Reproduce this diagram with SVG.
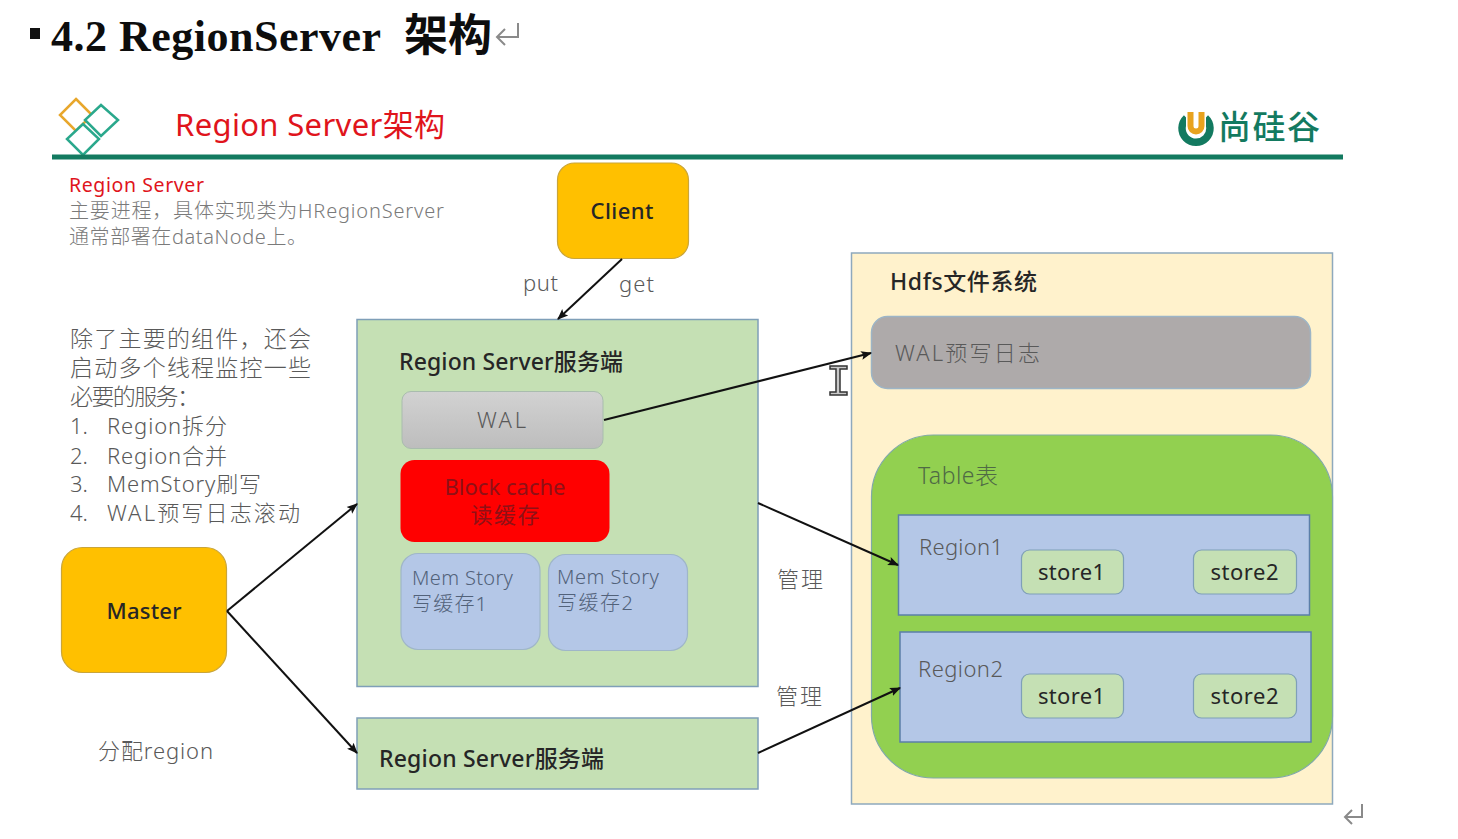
<svg xmlns="http://www.w3.org/2000/svg" width="1458" height="839" viewBox="0 0 1458 839">
<style>
text{font-family:"Noto Sans","Noto Sans CJK SC",sans-serif;fill:#595959;font-size:22px;font-weight:300}
.dk{fill:#262626;font-weight:400}
.med{font-weight:500}
.red{fill:#e0141c;font-weight:400}
.box{stroke:#7f9fb8;stroke-width:1.5}
.c{stroke:#111;stroke-width:2;fill:none;marker-end:url(#a)}
.ret{stroke:#8a8a8a;stroke-width:2;fill:none}
.store{fill:#c5e0b4;stroke:#7f9fb8;stroke-width:1.2}
.mem{fill:#b4c7e7;stroke:#9fb6c8;stroke-width:1.2}
.reg{fill:#b4c7e7;stroke:#5b7fa8;stroke-width:1.5}
.m{text-anchor:middle}
.dia{fill:#fff;stroke:#2aa88c;stroke-width:2.500}
.memt{font-size:20px;fill:#52627a}
.bc{font-size:22px;fill:#8f1016;font-weight:400}
</style>
<defs>
<marker id="a" viewBox="0 0 10 10" refX="9" refY="5" markerWidth="5.5" markerHeight="5.5" orient="auto-start-reverse" markerUnits="strokeWidth"><path d="M0 1L10 5L0 9L2 5Z" fill="#111"/></marker>
<linearGradient id="wal" x1="0" y1="0" x2="0" y2="1"><stop offset="0" stop-color="#d2d2d2"/><stop offset="1" stop-color="#bdbdbd"/></linearGradient>
</defs>
<rect width="1458" height="839" fill="#fff"/>

<g id="heading">
<rect x="30" y="28" width="10" height="11" fill="#111"/>
<text x="51" y="51" textLength="330" style="font-family:'Liberation Serif','Noto Sans CJK SC',serif;font-weight:700;font-size:44px;fill:#0d0d0d">4.2 RegionServer</text>
<text x="404" y="51" style="font-family:'Noto Sans CJK SC',sans-serif;font-weight:700;font-size:44px;fill:#0d0d0d">架构</text>
<path class="ret" d="M518 23V37H497M505 29L497 37L505 45"/>
</g>

<g id="slide-header">
<path d="M76 99L92 115L76 131L60 115Z" fill="none" stroke="#e8a72c" stroke-width="2.500"/>
<path class="dia" d="M101 105L118 120L101 136L85 120Z"/>
<path class="dia" d="M83 124L99 139L83 155L67 139Z"/>
<text x="175" y="136" class="red" textLength="270" style="font-size:31px">Region Server架构</text>
<rect x="52" y="154.500" width="1291" height="5" fill="#137a60"/>
<path d="M1186.500 118A14 14 0 1 0 1205.500 118" fill="none" stroke="#137a60" stroke-width="7.500"/>
<path d="M1190.500 108V126A5.500 5.500 0 0 0 1201.500 126V108" fill="none" stroke="#fff" stroke-width="9"/>
<path d="M1190.500 112V126A5.500 5.500 0 0 0 1201.500 126V112" fill="none" stroke="#e8a31f" stroke-width="6"/>
<text x="1218" y="139" textLength="102" style="font-family:'Noto Sans CJK SC',sans-serif;font-size:33px;font-weight:500;fill:#137a60">尚硅谷</text>
</g>

<g id="intro">
<text x="69" y="192" class="red" textLength="135" style="font-size:19.500px">Region Server</text>
<text x="69" y="218" textLength="375" style="font-size:20px;fill:#7a7a7a">主要进程，具体实现类为HRegionServer</text>
<text x="69" y="244" textLength="238" style="font-size:20px;fill:#7a7a7a">通常部署在dataNode上。</text>
</g>

<g id="notes">
<text x="70" y="347" textLength="241" style="font-size:23px">除了主要的组件，还会</text>
<text x="70" y="376" textLength="241" style="font-size:23px">启动多个线程监控一些</text>
<text x="70" y="405" textLength="130" style="font-size:23px">必要的服务：</text>
<text x="70" y="434">1.</text><text x="107" y="434" textLength="120">Region拆分</text>
<text x="70" y="464">2.</text><text x="107" y="464" textLength="120">Region合并</text>
<text x="70" y="492">3.</text><text x="107" y="492" textLength="154">MemStory刷写</text>
<text x="70" y="521">4.</text><text x="107" y="521" textLength="193">WAL预写日志滚动</text>
</g>

<g id="client">
<rect x="557.500" y="163" width="131" height="95.500" rx="17" fill="#ffc000" stroke="#c9a53a" stroke-width="1.2"/>
<text x="622" y="219" class="m dk med" textLength="63" style="font-size:22px">Client</text>
</g>

<g id="master">
<rect x="61.500" y="547.500" width="165" height="125" rx="21" fill="#ffc000" stroke="#c9a53a" stroke-width="1.2"/>
<text x="144" y="619" class="m dk med" textLength="75" style="font-size:22px">Master</text>
</g>

<g id="region-server-1">
<rect class="box" x="357" y="319.500" width="401" height="367" fill="#c5e0b4"/>
<text x="399" y="370" class="dk med" textLength="224" style="font-size:23px">Region Server服务端</text>
</g>

<g id="wal">
<rect x="402" y="391.500" width="201" height="57" rx="9" fill="url(#wal)" stroke="#a9bcae" stroke-width="1"/>
<text x="501.500" y="428" class="m" textLength="49" style="font-size:22px">WAL</text>
</g>

<g id="block-cache">
<rect x="400.500" y="460" width="209" height="82" rx="14" fill="#ff0000"/>
<text x="505" y="495" class="m bc" textLength="121">Block cache</text>
<text x="505" y="523" class="m bc" textLength="69">读缓存</text>
</g>

<g id="memstore-1">
<rect class="mem" x="401" y="553.500" width="139" height="96" rx="17"/>
<text x="412" y="585" class="memt" textLength="101">Mem Story</text>
<text x="412" y="611" class="memt" textLength="75">写缓存1</text>
</g>

<g id="memstore-2">
<rect class="mem" x="548.500" y="554.500" width="139" height="96" rx="17"/>
<text x="557" y="584" class="memt" textLength="102">Mem Story</text>
<text x="557" y="610" class="memt" textLength="76">写缓存2</text>
</g>

<g id="region-server-2">
<rect class="box" x="357" y="718" width="401" height="71" fill="#c5e0b4"/>
<text x="379" y="767" class="dk med" textLength="225" style="font-size:23px">Region Server服务端</text>
</g>

<g id="hdfs">
<rect x="851.500" y="253" width="481" height="551" fill="#fff2cc" stroke="#8ea9bd" stroke-width="1.5"/>
<text x="890" y="290" class="dk med" textLength="147" style="font-size:23px">Hdfs文件系统</text>
</g>

<g id="wal-log">
<rect x="871.500" y="316.500" width="439" height="72" rx="16" fill="#aeaaaa" stroke="#9db5c6" stroke-width="1.5"/>
<text x="895" y="361" textLength="145" style="font-size:22px">WAL预写日志</text>
</g>

<g id="table">
<rect x="871.500" y="435" width="461" height="343" rx="62" fill="#92d050" stroke="#7fa9a8" stroke-width="1.2"/>
<text x="918" y="484" textLength="80" style="font-size:23px;fill:#4f6a45">Table表</text>
</g>

<g id="region1">
<rect class="reg" x="898.500" y="515" width="411" height="100"/>
<text x="919" y="555" textLength="84" style="font-size:22px">Region1</text>
</g>
<g id="region1-store1">
<rect class="store" x="1021.500" y="550" width="102" height="44" rx="8"/>
<text x="1071.500" y="580" class="m dk" textLength="67" style="font-size:22px">store1</text>
</g>
<g id="region1-store2">
<rect class="store" x="1193.500" y="550" width="103" height="44" rx="8"/>
<text x="1244.500" y="580" class="m dk" textLength="68" style="font-size:22px">store2</text>
</g>

<g id="region2">
<rect class="reg" x="900" y="632" width="411" height="110"/>
<text x="918" y="677" textLength="85" style="font-size:22px">Region2</text>
</g>
<g id="region2-store1">
<rect class="store" x="1021.500" y="674" width="102" height="44" rx="8"/>
<text x="1071.500" y="704" class="m dk" textLength="67" style="font-size:22px">store1</text>
</g>
<g id="region2-store2">
<rect class="store" x="1193.500" y="674" width="103" height="44" rx="8"/>
<text x="1244.500" y="704" class="m dk" textLength="68" style="font-size:22px">store2</text>
</g>

<g id="connectors">
<path class="c" d="M622 259L558 319"/>
<path class="c" d="M604 420L871 353"/>
<path class="c" d="M227 611L357 504"/>
<path class="c" d="M227 611L357 753"/>
<path class="c" d="M758 503L898 565"/>
<path class="c" d="M758 753L900 688"/>
</g>

<g id="labels">
<text x="523" y="291" textLength="35" style="font-size:22px">put</text>
<text x="619" y="292" textLength="35" style="font-size:22px">get</text>
<text x="777" y="587" textLength="46" style="font-size:22px">管理</text>
<text x="776" y="704" textLength="46" style="font-size:22px">管理</text>
<text x="98" y="759" textLength="115" style="font-size:22px">分配region</text>
</g>

<g id="cursor">
<path d="M830 366H847V369H840V392H847V395H830V392H836V369H830Z" fill="#c9c9c9" stroke="#333" stroke-width="1.5"/>
</g>
<path class="ret" d="M1362 804V817H1345M1352 810L1345 817L1352 824"/>
</svg>
